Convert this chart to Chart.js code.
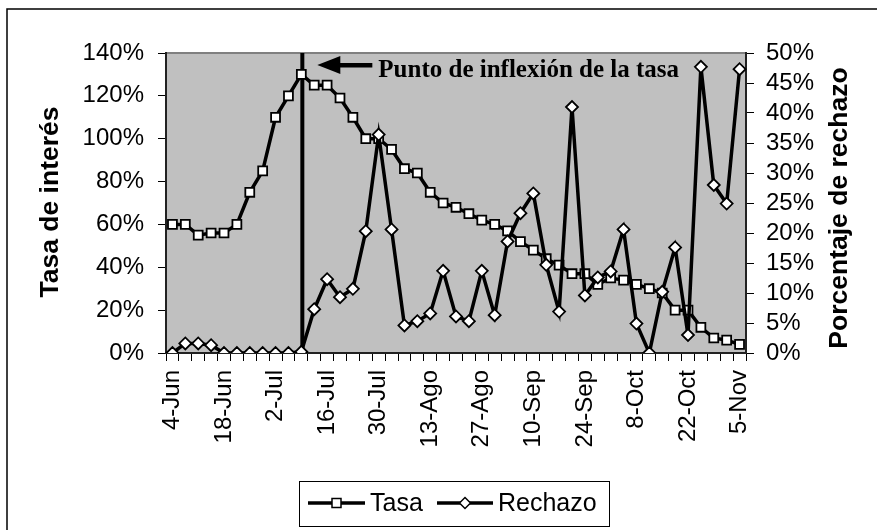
<!DOCTYPE html>
<html>
<head>
<meta charset="utf-8">
<script src="https://cdn.jsdelivr.net/npm/chart.js@4.4.1/dist/chart.umd.min.js"></script>
<style>
  html, body { margin: 0; padding: 0; background: #fff; }
</style>
</head>
<body>
<canvas id="chart" width="877" height="530"></canvas>
<script>
// fechas de cada observacion (lunes y jueves)
const fechas = [
  "4-Jun", "7-Jun", "11-Jun", "14-Jun", "18-Jun", "21-Jun", "25-Jun", "28-Jun",
  "2-Jul", "5-Jul", "9-Jul", "12-Jul", "16-Jul", "19-Jul", "23-Jul", "26-Jul", "30-Jul",
  "2-Ago", "6-Ago", "9-Ago", "13-Ago", "16-Ago", "20-Ago", "23-Ago", "27-Ago", "30-Ago",
  "3-Sep", "6-Sep", "10-Sep", "13-Sep", "17-Sep", "20-Sep", "24-Sep", "27-Sep",
  "1-Oct", "4-Oct", "8-Oct", "11-Oct", "15-Oct", "18-Oct", "22-Oct", "25-Oct", "29-Oct",
  "1-Nov", "5-Nov"
];
const tasa = [
  60, 60, 55, 56, 56, 60, 75, 85, 110, 120,
  130, 125, 125, 119, 110, 100, 100, 95, 86, 84,
  75, 70, 68, 65, 62, 60, 57, 52, 48, 44,
  41, 37, 37, 32, 35, 34, 32, 30, 28, 20,
  20, 12, 7, 6, 4
];
const rechazo = [
  0, 1.6, 1.6, 1.3, 0, 0, 0, 0, 0, 0,
  0.2, 7.3, 12.3, 9.3, 10.7, 20.3, 36.4, 20.6, 4.6, 5.3,
  6.6, 13.7, 6.1, 5.3, 13.7, 6.3, 18.6, 23.3, 26.6, 14.7,
  6.9, 41, 9.6, 12.6, 13.6, 20.6, 4.9, 0, 10.2, 17.6,
  3, 47.7, 28, 24.9, 47.3
];
const cadaEtiqueta = 4;
const indiceInflexion = 10;
const textoInflexion = "Punto de inflexión de la tasa";
const tituloIzq = "Tasa de interés";
const tituloDer = "Porcentaje de rechazo";

const familia = "'Liberation Sans', Arial, sans-serif";
Chart.defaults.font.family = familia;
Chart.defaults.font.size = 24;
Chart.defaults.color = "#000";

const fondo = {
  id: "fondo",
  beforeDraw(chart) {
    const { ctx, chartArea: a } = chart;
    ctx.save();
    ctx.fillStyle = "#fff";
    ctx.fillRect(0, 0, chart.width, chart.height);
    // marco exterior (recortado a la derecha y abajo)
    ctx.strokeStyle = "#000";
    ctx.lineWidth = 1.5;
    ctx.beginPath();
    ctx.moveTo(7, chart.height);
    ctx.lineTo(7, 9);
    ctx.lineTo(chart.width, 9);
    ctx.stroke();
    ctx.fillStyle = "#c0c0c0";
    ctx.fillRect(a.left, a.top, a.right - a.left, a.bottom - a.top);
    ctx.strokeStyle = "#808080";
    ctx.lineWidth = 2;
    ctx.strokeRect(a.left, a.top, a.right - a.left, a.bottom - a.top);
    ctx.restore();
  }
};

const inflexion = {
  id: "inflexion",
  beforeDatasetsDraw(chart) {
    const { ctx, chartArea: a, scales: { x } } = chart;
    const px = x.getPixelForValue(indiceInflexion) + 1;
    ctx.save();
    ctx.strokeStyle = "#000";
    ctx.lineWidth = 4;
    ctx.beginPath();
    ctx.moveTo(px, a.top);
    ctx.lineTo(px, a.bottom);
    ctx.stroke();

    const ay = a.top + 12;
    const tip = px + 15;
    ctx.fillStyle = "#000";
    ctx.beginPath();
    ctx.moveTo(tip, ay);
    ctx.lineTo(tip + 23, ay - 9);
    ctx.lineTo(tip + 23, ay + 9);
    ctx.closePath();
    ctx.fill();
    ctx.fillRect(tip + 22, ay - 2, 33, 4.5);

    ctx.font = "bold 25px 'Liberation Serif', 'Times New Roman', serif";
    ctx.textAlign = "left";
    ctx.textBaseline = "alphabetic";
    ctx.fillText(textoInflexion, tip + 61, a.top + 24);
    ctx.restore();
  }
};

const extras = {
  id: "extras",
  afterDraw(chart) {
    const { ctx, chartArea: a } = chart;
    const mid = (a.top + a.bottom) / 2;
    ctx.save();
    ctx.fillStyle = "#000";
    ctx.font = "bold 26.5px " + familia;
    ctx.textAlign = "center";
    ctx.textBaseline = "alphabetic";

    ctx.save();
    ctx.translate(a.left - 108, mid - 1);
    ctx.rotate(-Math.PI / 2);
    ctx.fillText(tituloIzq, 0, 0);
    ctx.restore();

    ctx.save();
    ctx.translate(a.right + 101, mid + 5);
    ctx.rotate(-Math.PI / 2);
    ctx.fillText(tituloDer, 0, 0);
    ctx.restore();

    // leyenda
    const lx = 299.5, ly = 481.5, lw = 310, lh = 45;
    ctx.strokeStyle = "#000";
    ctx.lineWidth = 1;
    ctx.strokeRect(lx, ly, lw, lh);
    const cy = 503;
    const items = [
      { texto: chart.data.datasets[0].label, x0: 308, x1: 365, forma: "rect" },
      { texto: chart.data.datasets[1].label, x0: 437, x1: 493, forma: "rombo" }
    ];
    ctx.font = "25px " + familia;
    ctx.textAlign = "left";
    items.forEach(it => {
      ctx.lineWidth = 3.5;
      ctx.beginPath();
      ctx.moveTo(it.x0, cy);
      ctx.lineTo(it.x1, cy);
      ctx.stroke();
      const mx = (it.x0 + it.x1) / 2;
      ctx.fillStyle = "#fff";
      ctx.lineWidth = 1.5;
      ctx.beginPath();
      if (it.forma === "rect") {
        ctx.rect(mx - 4.5, cy - 4.5, 9, 9);
      } else {
        ctx.moveTo(mx - 5.5, cy);
        ctx.lineTo(mx, cy - 5.5);
        ctx.lineTo(mx + 5.5, cy);
        ctx.lineTo(mx, cy + 5.5);
        ctx.closePath();
      }
      ctx.fill();
      ctx.stroke();
      ctx.fillStyle = "#000";
      ctx.fillText(it.texto, it.x1 + 5, 511);
    });
    ctx.restore();
  }
};

const ejeGrid = { drawOnChartArea: false, color: "#000", tickLength: 8, lineWidth: 1 };
const ejeBorde = { color: "#222", width: 2 };
const letraEje = { family: familia, size: 24 };

new Chart(document.getElementById("chart"), {
  type: "line",
  data: {
    labels: fechas,
    datasets: [
      {
        label: "Tasa",
        data: tasa,
        yAxisID: "y",
        order: 1,
        borderColor: "#000",
        borderWidth: 3.5,
        tension: 0,
        pointStyle: "rect",
        pointRadius: 6.3,
        pointBackgroundColor: "#fff",
        pointBorderColor: "#000",
        pointBorderWidth: 1.8
      },
      {
        label: "Rechazo",
        data: rechazo,
        yAxisID: "y1",
        order: 0,
        borderColor: "#000",
        borderWidth: 3.5,
        tension: 0,
        pointStyle: "rectRot",
        pointRadius: 6,
        pointBackgroundColor: "#fff",
        pointBorderColor: "#000",
        pointBorderWidth: 1.8
      }
    ]
  },
  options: {
    responsive: false,
    animation: false,
    layout: { padding: { top: 53, left: 0, right: 0, bottom: 0 } },
    plugins: {
      legend: { display: false },
      tooltip: { enabled: false }
    },
    scales: {
      x: {
        offset: true,
        grid: { ...ejeGrid, offset: true },
        border: ejeBorde,
        ticks: {
          font: letraEje,
          autoSkip: false,
          minRotation: 90,
          maxRotation: 90,
          padding: 9,
          callback: (v, i) => (i % cadaEtiqueta === 0 ? fechas[i] : "")
        },
        afterFit: s => { s.height = 177; }
      },
      y: {
        position: "left",
        min: 0,
        max: 140,
        grid: ejeGrid,
        border: ejeBorde,
        ticks: { font: letraEje, autoSkip: false, stepSize: 20, padding: 14, callback: v => v + "%" },
        afterFit: s => { s.width = 166; }
      },
      y1: {
        position: "right",
        min: 0,
        max: 50,
        grid: ejeGrid,
        border: ejeBorde,
        ticks: { font: letraEje, autoSkip: false, stepSize: 5, padding: 12, callback: v => v + "%" },
        afterFit: s => { s.width = 131; }
      }
    }
  },
  plugins: [fondo, inflexion, extras]
});
</script>
</body>
</html>
